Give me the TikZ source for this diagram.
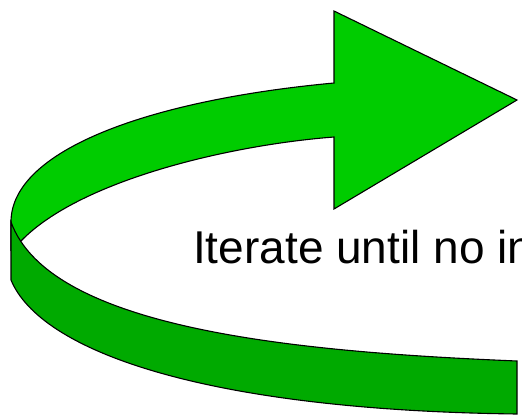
\documentclass[tikz,border=0pt]{standalone}
\usepackage{fontspec}
\setmainfont{Liberation Sans}
\definecolor{lightgreen}{RGB}{0,204,0}
\definecolor{darkgreen}{RGB}{0,170,0}
\tikzset{
  topface/.style={draw=black, line width=1.1pt, fill=lightgreen, line join=miter},
  sideface/.style={draw=black, line width=1.1pt, fill=darkgreen},
  label/.style={anchor=base west, inner sep=0pt, font=\fontsize{46}{50}\selectfont}
}
\begin{document}
\begin{tikzpicture}[x=1pt,y=-1pt]
  \useasboundingbox (0,0) rectangle (522,415);
  \clip (0,0) rectangle (522,415);
  % upper face with the head
  \draw[topface] (334,83) -- (334,11) -- (517,100) -- (334,209) -- (334,137)
    .. controls (230,145) and (80,180) .. (21,241)
    -- (11,250) -- (11,222)
    .. controls (11,150) and (150,100) .. (334,83) -- cycle;
  % lower face
  \draw[sideface] (11,222) .. controls (50,330) and (300,352) .. (517,361)
    -- (517,414) .. controls (200,410) and (40,350) .. (11,280) -- cycle;
  \node[label] (iter) at (193,263.5) {Iterate until no in};
\end{tikzpicture}
\end{document}
